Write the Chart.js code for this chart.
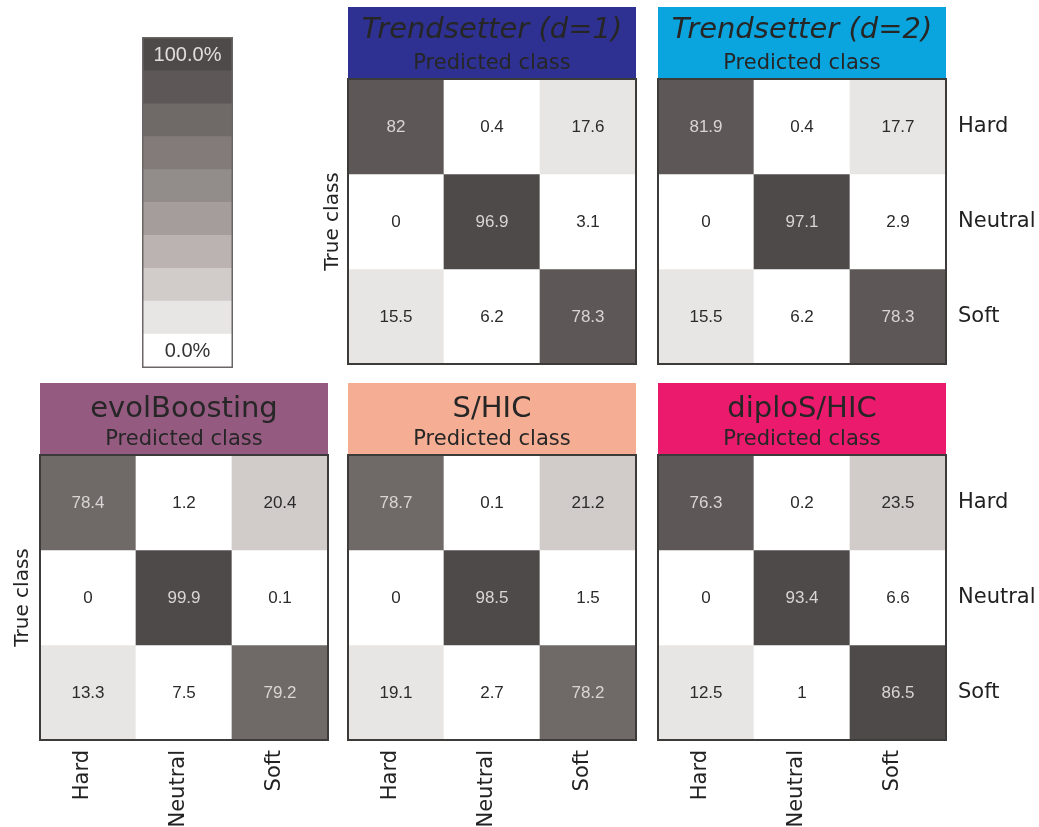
<!DOCTYPE html>
<html><head><meta charset="utf-8">
<script src="https://cdn.jsdelivr.net/npm/chart.js@4.4.1/dist/chart.umd.min.js"></script>
<style>
html,body{margin:0;padding:0;background:#fff;}
#wrap{position:relative;width:1039px;height:827px;overflow:hidden;background:#fff;}
#wrap canvas{position:absolute;}
</style></head><body><div id="wrap"></div>
<script>
// ---------- data ----------
const predictedClasses = ['Hard', 'Neutral', 'Soft'];
const trueClasses = ['Hard', 'Neutral', 'Soft'];
const panelNames = ['Trendsetter (d=1)', 'Trendsetter (d=2)', 'evolBoosting', 'S/HIC', 'diploS/HIC'];
const trendsetterD1 = [[82, 0.4, 17.6], [0, 96.9, 3.1], [15.5, 6.2, 78.3]];
const trendsetterD2 = [[81.9, 0.4, 17.7], [0, 97.1, 2.9], [15.5, 6.2, 78.3]];
const evolBoosting = [[78.4, 1.2, 20.4], [0, 99.9, 0.1], [13.3, 7.5, 79.2]];
const sHIC = [[78.7, 0.1, 21.2], [0, 98.5, 1.5], [19.1, 2.7, 78.2]];
const diploSHIC = [[76.3, 0.2, 23.5], [0, 93.4, 6.6], [12.5, 1, 86.5]];
const colorbarTickLabels = ['0.0%', '100.0%'];
const subtitleText = 'Predicted class';
const yAxisTitle = 'True class';

// ---------- styles ----------
const shades = ['#ffffff', '#e8e6e4', '#d1cbc9', '#bab3b1', '#a49d9b', '#928c8a', '#827b79', '#6f6a68', '#5d5757', '#4f4a4a'];
const headerColors = ['#2e3192', '#0aa5df', '#955a80', '#f5ad93', '#ec1a6c'];
const FONT = '"DejaVu Sans", Verdana, sans-serif';
const NUMFONT = '"Liberation Sans", Arial, sans-serif';
const lightText = '#d9d5d3', darkText = '#2b2b2b';

function shadeIndex(v, max) { return Math.min(shades.length - 1, Math.floor(v / max * shades.length)); }
function zeroPad(s) { s.paddingTop = 0; s.paddingBottom = 0; s.paddingLeft = 0; s.paddingRight = 0; }

const headerBg = {
  id: 'headerBg',
  beforeDraw(chart, args, opts) {
    if (!opts.color) return;
    const a = chart.chartArea, ctx = chart.ctx;
    const top = chart.titleBlock ? chart.titleBlock.top : 0;
    ctx.save(); ctx.fillStyle = opts.color;
    ctx.fillRect(a.left, top, a.right - a.left, a.top - top);
    ctx.restore();
  }
};
const cellText = {
  id: 'cellText',
  afterDatasetsDraw(chart, args, opts) {
    if (!opts.enabled) return;
    const ctx = chart.ctx;
    ctx.save();
    ctx.font = opts.font; ctx.textAlign = 'center'; ctx.textBaseline = 'middle';
    chart.data.datasets.forEach((ds, di) => {
      const meta = chart.getDatasetMeta(di);
      meta.data.forEach((el, i) => {
        const t = ds.cellLabels[i];
        if (t === undefined || t === null) return;
        ctx.fillStyle = ds.textColors[i];
        ctx.fillText(t, el.x, (el.y + el.base) / 2 + 1);
      });
    });
    ctx.restore();
  }
};
const frame = {
  id: 'frame',
  afterDraw(chart, args, opts) {
    const a = chart.chartArea, ctx = chart.ctx;
    ctx.save(); ctx.strokeStyle = opts.color; ctx.lineWidth = opts.width;
    const h = opts.width / 2;
    ctx.strokeRect(a.left + h - 1, a.top + h - 1, a.right - a.left - 2 * h + 2, a.bottom - a.top - 2 * h + 2);
    ctx.restore();
  }
};
Chart.register(headerBg, cellText, frame);

const wrap = document.getElementById('wrap');
function makeCanvas(left, top, w, h) {
  const c = document.createElement('canvas');
  c.width = w; c.height = h;
  c.style.left = left + 'px'; c.style.top = top + 'px';
  c.style.width = w + 'px'; c.style.height = h + 'px';
  wrap.appendChild(c);
  return c;
}

const panels = [
  { idx: 0, data: trendsetterD1, left: 317, top: 7, w: 323, h: 361, yTitle: true, yTitleW: 31, right: false, bottom: false },
  { idx: 1, data: trendsetterD2, left: 654, top: 7, w: 385, h: 361, yTitle: false, right: true, bottom: false },
  { idx: 2, data: evolBoosting, left: 7, top: 383, w: 325, h: 444, yTitle: true, yTitleW: 33, right: false, bottom: true },
  { idx: 3, data: sHIC, left: 344, top: 383, w: 296, h: 444, yTitle: false, right: false, bottom: true },
  { idx: 4, data: diploSHIC, left: 654, top: 383, w: 385, h: 444, yTitle: false, right: true, bottom: true }
];

panels.forEach(p => {
  const max = Math.max(...p.data.flat());
  const datasets = p.data.map((row, r) => ({
    data: row.map(() => [r, r + 1]),
    cellLabels: row.map(v => String(v)),
    backgroundColor: row.map(v => shades[shadeIndex(v, max)]),
    textColors: row.map(v => shadeIndex(v, max) >= 7 ? lightText : darkText),
    grouped: false, barPercentage: 1, categoryPercentage: 1, borderWidth: 0, borderSkipped: false
  }));
  const scales = {
    x: {
      type: 'category', display: p.bottom, offset: true,
      grid: { display: false, drawTicks: false }, border: { display: false },
      ticks: { autoSkip: false, minRotation: 90, maxRotation: 90, padding: 10, labelOffset: -5, color: '#222', font: { family: FONT, size: 21 } },
      afterFit: s => { s.height = p.bottom ? 87 : 0; zeroPad(s); }
    },
    y: {
      type: 'linear', min: 0, max: 3, reverse: true, position: 'right', display: p.right,
      grid: { display: false, drawTicks: false }, border: { display: false },
      afterBuildTicks: s => { s.ticks = [0.5, 1.5, 2.5].map(v => ({ value: v })); },
      ticks: { padding: 12, color: '#222', font: { family: FONT, size: 21 }, callback: (v, i) => trueClasses[i] },
      afterFit: s => { s.width = p.right ? 93 : 0; zeroPad(s); }
    }
  };
  if (p.yTitle) {
    scales.y2 = {
      type: 'linear', min: 0, max: 3, position: 'left', display: true,
      grid: { display: false, drawTicks: false }, border: { display: false },
      ticks: { display: false },
      title: { display: true, text: yAxisTitle, color: '#222', font: { family: FONT, size: 20, lineHeight: 1.2 }, padding: { top: 4, bottom: 4 } },
      afterFit: s => { s.width = p.yTitleW; zeroPad(s); }
    };
  }
  const titlePad = p.bottom ? { top: 9, bottom: 0 } : { top: 6, bottom: 0 };
  const subPad = p.bottom ? { top: 0, bottom: 3 } : { top: 3.4, bottom: 2.6 };
  const c = makeCanvas(p.left, p.top, p.w, p.h);
  new Chart(c, {
    type: 'bar',
    data: { labels: predictedClasses, datasets },
    options: {
      responsive: false, animation: false, devicePixelRatio: 1,
      layout: { padding: { top: 0, left: p.yTitle ? 0 : 4, right: p.right ? 0 : 4, bottom: p.bottom ? 0 : 4 } },
      scales,
      plugins: {
        legend: { display: false }, tooltip: { enabled: false },
        title: { display: true, text: panelNames[p.idx], fullSize: false, color: '#262626',
          font: { family: FONT, size: 29, lineHeight: 1.2, style: p.idx < 2 ? 'italic' : 'normal', weight: 'normal' },
          padding: titlePad },
        subtitle: { display: true, text: subtitleText, fullSize: false, color: '#262626',
          font: { family: FONT, size: 21, lineHeight: 1.2, weight: 'normal' },
          padding: subPad },
        headerBg: { color: headerColors[p.idx] },
        cellText: { enabled: true, font: '17px ' + NUMFONT },
        frame: { color: '#3d3a3a', width: 2 }
      }
    }
  });
});

// ---------- colour bar ----------
(function () {
  const c = makeCanvas(139, 34, 97, 337);
  const n = shades.length;
  const datasets = shades.map((col, i) => ({
    data: [[i, i + 1]],
    cellLabels: [i === 0 ? colorbarTickLabels[0] : (i === n - 1 ? colorbarTickLabels[1] : null)],
    textColors: [i === 0 ? '#333333' : '#e2dede'],
    backgroundColor: col, grouped: false, barPercentage: 1, categoryPercentage: 1, borderWidth: 0, borderSkipped: false
  }));
  new Chart(c, {
    type: 'bar',
    data: { labels: ['scale'], datasets },
    options: {
      responsive: false, animation: false, devicePixelRatio: 1,
      layout: { padding: 4 },
      scales: {
        x: { display: false, offset: true },
        y: { display: false, min: 0, max: n }
      },
      plugins: {
        legend: { display: false }, tooltip: { enabled: false },
        headerBg: { color: null },
        cellText: { enabled: true, font: '20px ' + NUMFONT },
        frame: { color: '#6a6666', width: 1.5 }
      }
    }
  });
})();
</script></body></html>
